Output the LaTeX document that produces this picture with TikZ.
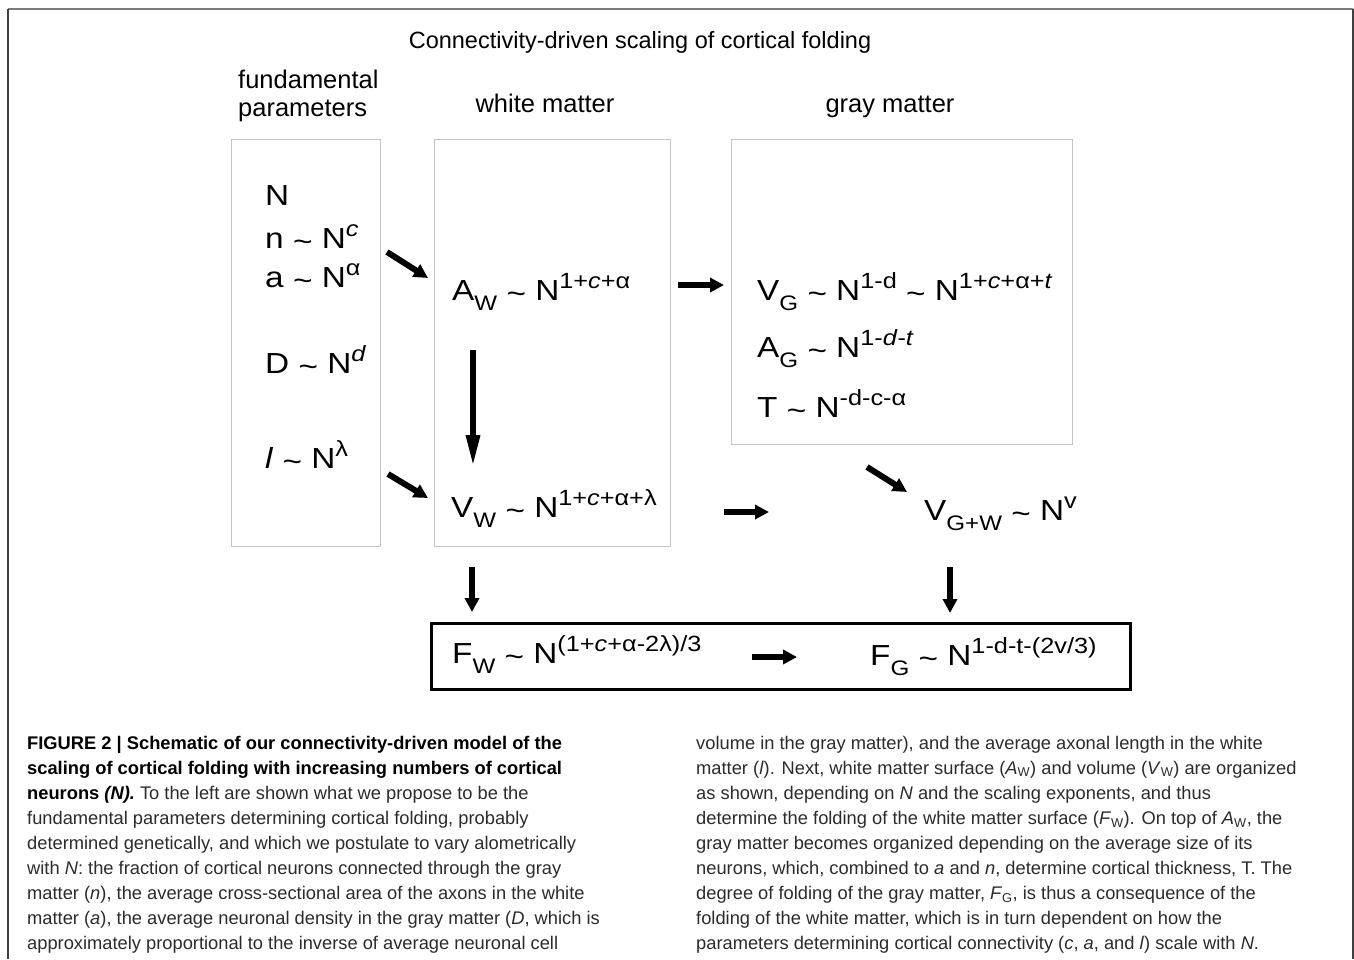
\documentclass[tikz,border=0pt]{standalone}
\usepackage{fontspec}
\setmainfont{Liberation Sans}
\newfontfamily\eqfont[FakeStretch=1.15]{Liberation Sans}
\usetikzlibrary{arrows.meta}

\definecolor{boxgray}{HTML}{C4C4C4}
\definecolor{framegray}{HTML}{7A7A7A}
\definecolor{captext}{HTML}{2B2B2B}

\newcommand\tld{\raisebox{-3pt}{\char"7E}}
\newcommand\upx[1]{\raisebox{12pt}{\fontsize{22}{22}\selectfont #1}}
\newcommand\dnx[1]{\raisebox{-10pt}{\fontsize{21}{21}\selectfont #1}}

\tikzset{
  formula/.style={anchor=base west, inner sep=0pt, font=\eqfont\fontsize{29}{34}\selectfont},
  hdr/.style={anchor=base, inner sep=0pt, font=\fontsize{25.5}{30}\selectfont},
  lightbox/.style={draw=boxgray, line width=1pt},
  fatarrow/.style={line width=6pt, -{Triangle[length=14pt,width=14pt]}},
  longarrow/.style={line width=6pt, -{Triangle[length=32pt,width=13pt]}},
  captline/.style={anchor=base west, inner sep=0pt, font=\fontsize{18.3}{21}\selectfont, text=captext},
}

\begin{document}
\begin{tikzpicture}[x=1pt,y=-1pt]
    \useasboundingbox (0,0) rectangle (1354,959);
    % frame
    \draw[framegray, line width=2pt] (8,9) -- (1353,9);
    \draw[black!75, line width=1.5pt] (8,959) -- (8,9) (1353,9) -- (1353,959);

    % headings
    \node[anchor=base, inner sep=0pt, font=\fontsize{23.5}{28}\selectfont] (title) at (640,48) {Connectivity-driven scaling of cortical folding};
    \node[hdr, anchor=base west] (fund) at (238,88) {fundamental};
    \node[hdr, anchor=base west] (param) at (238,116) {parameters};
    \node[hdr] (white) at (545,112) {white matter};
    \node[hdr] (gray) at (890,112) {gray matter};

    % boxes
    \draw[lightbox] (231,139) rectangle (380,546);
    \draw[lightbox] (434,139) rectangle (670,546);
    \draw[lightbox] (731,139) rectangle (1072,444);
    \draw[line width=3pt] (431,623) rectangle (1130,689);

    % fundamental parameters
    \node[formula] (n0) at (265,205) {N};
    \node[formula] (n1) at (265,248) {n \tld{} N\upx{\textit{c}}};
    \node[formula] (n2) at (265,287) {a \tld{} N\upx{α}};
    \node[formula] (n3) at (265,373) {D \tld{} N\upx{\textit{d}}};
    \node[formula] (n4) at (265,468) {\textit{l} \tld{} N\upx{λ}};

    % white and gray matter
    \node[formula] (aw) at (452,300) {A\dnx{W} \tld{} N\upx{1+\textit{c}+α}};
    \node[formula] (vw) at (451,517) {V\dnx{W} \tld{} N\upx{1+\textit{c}+α+λ}};
    \node[formula] (vg) at (757,300) {V\dnx{G} \tld{} N\upx{1-d} \tld{} N\upx{1+\textit{c}+α+\textit{t}}};
    \node[formula] (ag) at (757,357) {A\dnx{G} \tld{} N\upx{1-\textit{d}-\textit{t}}};
    \node[formula] (th) at (757,417) {T \tld{} N\upx{-d-c-α}};
    \node[formula] (vgw) at (924,520) {V\dnx{G+W} \tld{} N\upx{v}};
    \node[formula] (fw) at (452,663) {F\dnx{W} \tld{} N\upx{(1+\textit{c}+α-2λ)/3}};
    \node[formula] (fg) at (870,665) {F\dnx{G} \tld{} N\upx{1-d-t-(2v/3)}};

    % arrow ends
    \coordinate (p1a) at (387,252);  \coordinate (p1b) at (428,278);
    \coordinate (p2a) at (388,474);  \coordinate (p2b) at (428,498);
    \coordinate (p3a) at (473,350);  \coordinate (p3b) at (473,467);
    \coordinate (p4a) at (678,285);  \coordinate (p4b) at (724,285);
    \coordinate (p5a) at (724,512);  \coordinate (p5b) at (769,512);
    \coordinate (p6a) at (867,467);  \coordinate (p6b) at (907,492);
    \coordinate (p7a) at (472,567);  \coordinate (p7b) at (472,612);
    \coordinate (p8a) at (950,567);  \coordinate (p8b) at (950,613);
    \coordinate (p9a) at (752,657);  \coordinate (p9b) at (797,657);

    \foreach \k in {1,2,4,5,6,7,8,9}
        \draw[fatarrow] (p\k a) -- (p\k b);
    \draw[longarrow] (p3a) -- (p3b);

    % caption, left column
    \foreach \ln [count=\i from 0] in {
        {\color{black}\textbf{FIGURE 2 | Schematic of our connectivity-driven model of the}},
        {\color{black}\textbf{scaling of cortical folding with increasing numbers of cortical}},
        {{\color{black}\textbf{neurons \textit{(N).}}} To the left are shown what we propose to be the},
        {fundamental parameters determining cortical folding, probably},
        {determined genetically, and which we postulate to vary alometrically},
        {with \textit{N}: the fraction of cortical neurons connected through the gray},
        {matter (\textit{n}), the average cross-sectional area of the axons in the white},
        {matter (\textit{a}), the average neuronal density in the gray matter (\textit{D}, which is},
        {approximately proportional to the inverse of average neuronal cell}}
        \node[captline] (capl\i) at (27,{749+25.1*\i}) {\ln};

    % caption, right column
    \foreach \ln [count=\i from 0] in {
        {volume in the gray matter), and the average axonal length in the white},
        {matter (\textit{l}). Next, white matter surface (\textit{A}\textsubscript{W}) and volume (\textit{V}\textsubscript{W}) are organized},
        {as shown, depending on \textit{N} and the scaling exponents, and thus},
        {determine the folding of the white matter surface (\textit{F}\textsubscript{W}). On top of \textit{A}\textsubscript{W}, the},
        {gray matter becomes organized depending on the average size of its},
        {neurons, which, combined to \textit{a} and \textit{n}, determine cortical thickness, T. The},
        {degree of folding of the gray matter, \textit{F}\textsubscript{G}, is thus a consequence of the},
        {folding of the white matter, which is in turn dependent on how the},
        {parameters determining cortical connectivity (\textit{c}, \textit{a}, and \textit{l}) scale with \textit{N}.}}
        \node[captline] (capr\i) at (696,{749+25.1*\i}) {\ln};
\end{tikzpicture}
\end{document}
